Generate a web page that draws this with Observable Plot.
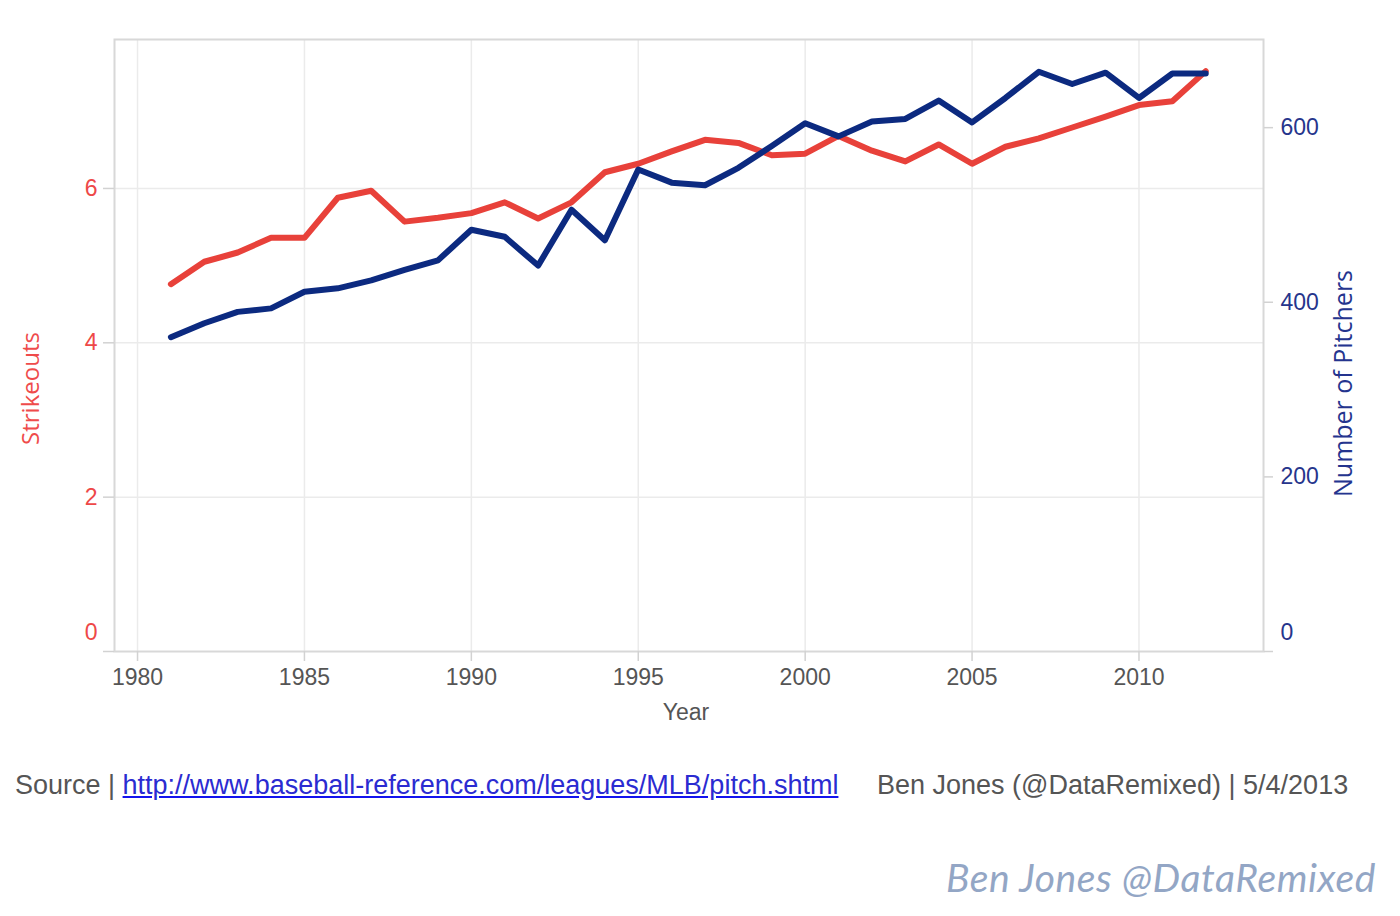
<!DOCTYPE html>
<html><head><meta charset="utf-8">
<script src="https://cdn.jsdelivr.net/npm/d3@7"></script>
<script src="https://cdn.jsdelivr.net/npm/@observablehq/plot@0.6"></script>
<style>
body{margin:0;background:#fff;}
#wrap{position:relative;width:1400px;height:916px;overflow:hidden;}
#chart{position:absolute;left:0;top:0;}
.foot{position:absolute;font-family:"Liberation Sans",Arial,sans-serif;font-size:27px;line-height:32px;color:#555;white-space:nowrap;}
.foot a{color:#2b2bd1;text-decoration:underline;text-decoration-color:#1414ee;}
#wm{position:absolute;left:946px;top:855px;font-family:Lato,sans-serif;font-style:italic;font-size:39px;line-height:44px;letter-spacing:0.6px;color:#93a6c5;white-space:nowrap;}
</style></head><body>
<div id="wrap">
<div id="chart"></div>
<div class="foot" style="left:15px;top:769px;">Source | <a>http://www.baseball-reference.com/leagues/MLB/pitch.shtml</a></div>
<div class="foot" style="left:877px;top:769px;">Ben Jones (@DataRemixed) | 5/4/2013</div>
<div id="wm">Ben Jones @DataRemixed</div>
</div>
<script>
const years = [1981,1982,1983,1984,1985,1986,1987,1988,1989,1990,1991,1992,1993,1994,1995,1996,1997,1998,1999,2000,2001,2002,2003,2004,2005,2006,2007,2008,2009,2010,2011,2012];
const strikeouts = [4.76,5.05,5.17,5.36,5.36,5.88,5.97,5.57,5.62,5.68,5.82,5.61,5.82,6.21,6.32,6.48,6.63,6.59,6.43,6.45,6.68,6.49,6.35,6.57,6.32,6.54,6.65,6.79,6.93,7.08,7.13,7.52];
const pitchers = [360,376,389,393,412,416,425,437,448,483,475,442,506,471,552,537,534,554,579,605,590,607,610,631,606,634,664,650,663,634,662,662];
const yearTicks = [1980,1985,1990,1995,2000,2005,2010];
const strikeoutTicks = [0,2,4,6];
const pitcherTicks = [0,200,400,600];

const k = 0.011313; // pitchers -> strikeout-axis units
const data = years.map((year, i) => ({year, so: strikeouts[i], p: pitchers[i]}));
const red = "#e8413a", navy = "#0c2a80";
const redText = "#ee4848", navyText = "#26358c";
const tickGray = "#d2d2d2";
const noText = () => "";

const chart = Plot.plot({
  width: 1400, height: 730,
  marginLeft: 114, marginRight: 137, marginTop: 39, marginBottom: 79,
  style: {fontFamily: "'Liberation Sans', Arial, sans-serif", fontSize: "23px", background: "#fff", overflow: "visible"},
  x: {domain: [1979.31, 2013.73], axis: null},
  y: {domain: [0, 7.93], axis: null},
  marks: [
    Plot.gridX(yearTicks, {stroke: "#ebebeb", strokeOpacity: 1, strokeWidth: 1.5}),
    Plot.gridY(strikeoutTicks.filter(t => t > 0), {stroke: "#ebebeb", strokeOpacity: 1, strokeWidth: 1.5}),
    Plot.frame({stroke: "#d8d8d8", strokeWidth: 2}),
    // x axis: ticks, then labels
    Plot.axisX({ticks: yearTicks, tickSize: 10, stroke: tickGray, strokeWidth: 1.5, tickFormat: noText, label: null}),
    Plot.axisX({ticks: yearTicks, tickSize: 0, tickPadding: 17, fill: "#555", tickFormat: d => String(d), label: null}),
    // left axis (strikeouts)
    Plot.axisY({ticks: strikeoutTicks, anchor: "left", tickSize: 11, stroke: tickGray, strokeWidth: 1.5, tickFormat: noText, label: null}),
    Plot.axisY({ticks: strikeoutTicks.filter(t => t > 0), anchor: "left", tickSize: 0, tickPadding: 17, fill: redText, tickFormat: d => String(d), label: null}),
    Plot.axisY({ticks: [0], anchor: "left", tickSize: 0, tickPadding: 17, dy: -19, fill: redText, tickFormat: d => String(d), label: null}),
    // right axis (pitchers)
    Plot.axisY({ticks: pitcherTicks.map(t => t * k), anchor: "right", tickSize: 9, stroke: tickGray, strokeWidth: 1.5, tickFormat: noText, label: null}),
    Plot.axisY({ticks: pitcherTicks.filter(t => t > 0).map(t => t * k), anchor: "right", tickSize: 0, tickPadding: 17, fill: navyText, tickFormat: d => String(Math.round(d / k)), label: null}),
    Plot.axisY({ticks: [0], anchor: "right", tickSize: 0, tickPadding: 17, dy: -19, fill: navyText, tickFormat: d => String(Math.round(d / k)), label: null}),
    Plot.line(data, {x: "year", y: "so", stroke: red, strokeWidth: 6, strokeLinejoin: "round", strokeLinecap: "round"}),
    Plot.line(data, {x: "year", y: d => d.p * k, stroke: navy, strokeWidth: 6, strokeLinejoin: "round", strokeLinecap: "round"}),
    Plot.text(["Strikeouts"], {frameAnchor: "left", dx: -83, dy: 43, rotate: -90, textAnchor: "middle", lineAnchor: "middle", fill: "#ef4b4b", fontFamily: "'Open Sans', sans-serif", fontSize: 24}),
    Plot.text(["Number of Pitchers"], {frameAnchor: "right", dx: 80, dy: 38, rotate: -90, textAnchor: "middle", lineAnchor: "middle", fill: "#24348e", fontFamily: "'Open Sans', sans-serif", fontSize: 25}),
    Plot.text(["Year"], {frameAnchor: "bottom", dx: -3, dy: 61, textAnchor: "middle", lineAnchor: "middle", fill: "#555", fontSize: 23})
  ]
});
document.getElementById("chart").appendChild(chart);
</script>
</body></html>
